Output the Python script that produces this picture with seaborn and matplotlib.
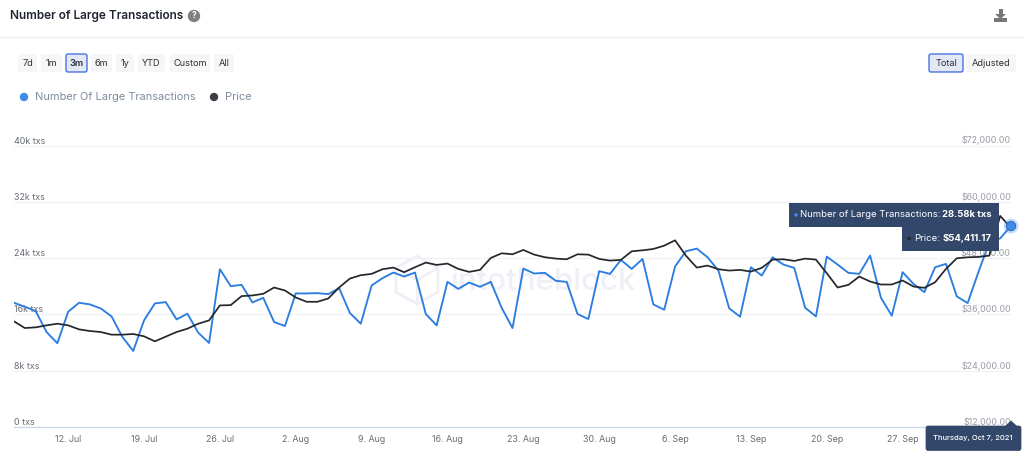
import pandas as pd
import matplotlib
matplotlib.use('Agg')
import matplotlib.pyplot as plt
from matplotlib.patches import Circle, FancyBboxPatch, Polygon, Rectangle
import seaborn as sns

start_date = '2021-07-07'
end_date = '2021-10-07'

# number of large transactions, thousands per day
large_txs = [17.65, 17.09, 16.47, 13.5, 11.9, 16.38, 17.65, 17.42, 16.85, 15.72,
             12.8, 10.81, 15.15, 17.56, 17.75, 15.29, 16.1, 13.41, 11.94, 22.42,
             20.01, 20.2, 17.7, 18.36, 14.92, 14.35, 18.98, 18.98, 19.02, 18.88,
             19.73, 16.19, 14.68, 20.11, 21.14, 21.95, 21.38, 21.95, 16.05, 14.44,
             20.62, 19.63, 20.53, 19.92, 20.62, 16.94, 14.06, 22.51, 21.81, 21.9,
             20.77, 20.62, 16.05, 15.34, 22.14, 21.76, 23.74, 22.47, 23.88, 17.42,
             16.66, 22.8, 24.97, 25.35, 24.12, 22.23, 16.85, 15.67, 22.7, 21.52,
             24.12, 23.08, 22.61, 16.95, 15.72, 24.21, 23.08, 21.9, 21.76, 24.36,
             18.36, 15.81, 22.0, 20.34, 19.16, 22.7, 23.18, 18.55, 17.61, 22.04,
             26.24, 26.8, 28.58]

price = [34513, 33097, 33238, 33663, 34017, 33663, 32813, 32459, 32247, 31681,
         31681, 31822, 31327, 30265, 31256, 32247, 32955, 34017, 34725, 37911,
         37982, 39893, 40035, 40389, 41734, 41097, 39610, 38690, 38690, 39398,
         41734, 43646, 44354, 44637, 45628, 45982, 44991, 46053, 47044, 46549,
         46832, 45699, 45062, 45487, 48035, 49027, 48814, 49735, 48743, 48177,
         47894, 47752, 48814, 48743, 47823, 47469, 47611, 49451, 49664, 49947,
         50655, 51788, 48530, 45981, 46406, 45627, 45344, 45486, 45132, 45910,
         47680, 47751, 47397, 47893, 47680, 44778, 41733, 42300, 44070, 43008,
         42370, 42370, 43220, 41946, 41662, 42866, 45698, 47964, 48176, 48247,
         48530, 57000, 54411.17]

tx_ticks = [0, 8, 16, 24, 32, 40]
tx_labels = ['0 txs', '8k txs', '16k txs', '24k txs', '32k txs', '40k txs']
price_ticks = [12000, 24000, 36000, 48000, 60000, 72000]
price_labels = ['$12,000.00', '$24,000.00', '$36,000.00', '$48,000.00', '$60,000.00', '$72,000.00']
x_tick_dates = ['2021-07-12', '2021-07-19', '2021-07-26', '2021-08-02', '2021-08-09', '2021-08-16',
                '2021-08-23', '2021-08-30', '2021-09-06', '2021-09-13', '2021-09-20', '2021-09-27']
x_tick_labels = ['12. Jul', '19. Jul', '26. Jul', '2. Aug', '9. Aug', '16. Aug',
                 '23. Aug', '30. Aug', '6. Sep', '13. Sep', '20. Sep', '27. Sep']
range_buttons = ['7d', '1m', '3m', '6m', '1y', 'YTD', 'Custom', 'All']

BLUE = '#2b7de0'
DARK = '#24272b'
NAVY = '#33476a'
W, H = 1024, 454

sns.set_style('white')
plt.rcParams['font.family'] = ['Inter', 'DejaVu Sans']

df = pd.DataFrame({'date': pd.date_range(start_date, end_date), 'txs': large_txs, 'price': price})

fig = plt.figure(figsize=(W / 100, H / 100), dpi=100, facecolor='white')


def pixel_axes(zorder):
    a = fig.add_axes([0, 0, 1, 1], zorder=zorder)
    a.set_xlim(0, W)
    a.set_ylim(H, 0)
    a.axis('off')
    return a


bg = pixel_axes(0)
fg = pixel_axes(5)

# chart axes, placed in pixels of the picture
left, right, top, bottom = 14, 1011, 145.5, 427
ax = fig.add_axes([left / W, 1 - bottom / H, (right - left) / W, (bottom - top) / H], zorder=1)
ax.patch.set_alpha(0)
ax2 = ax.twinx()
ax2.set_zorder(2)
ax2.patch.set_alpha(0)

sns.lineplot(data=df, x='date', y='txs', ax=ax, color=BLUE, lw=1.35, legend=False, zorder=3)
sns.lineplot(data=df, x='date', y='price', ax=ax2, color=DARK, lw=1.25, legend=False, zorder=4)

ax.set_xlim(df['date'].iloc[0], df['date'].iloc[-1])
ax.set_ylim(0, 40)
ax2.set_ylim(12000, 72000)
ax.set_xlabel('')
ax.set_ylabel('')
ax2.set_ylabel('')

ax.set_xticks(pd.to_datetime(x_tick_dates))
ax.set_xticklabels(x_tick_labels)
ax.tick_params(axis='x', length=4.5, width=0.8, color='#ccd6eb', labelsize=6.4, labelcolor='#666c74', pad=1)

ax.set_yticks(tx_ticks)
ax.set_yticklabels(tx_labels)
ax.tick_params(axis='y', length=0, pad=0, labelsize=6.4, labelcolor='#666c74')
for lab in ax.get_yticklabels():
    lab.set_ha('left')
    lab.set_va('bottom')

ax2.set_yticks(price_ticks)
ax2.set_yticklabels(price_labels)
ax2.tick_params(axis='y', length=0, pad=0, labelsize=6.4, labelcolor='#9a9ea5')
for lab in ax2.get_yticklabels():
    lab.set_ha('right')
    lab.set_va('bottom')

ax.grid(axis='y', color='#f0f1f4', lw=0.9)
ax.grid(axis='x', visible=False)
ax2.grid(False)
sns.despine(ax=ax, left=True, right=True, top=True)
sns.despine(ax=ax2, left=True, right=True, top=True, bottom=True)
ax.spines['bottom'].set_color('#ccd6eb')
ax.spines['bottom'].set_linewidth(0.9)

# watermark
hex_pts = [(417, 256), (438, 268), (438, 292), (417, 304), (396, 292), (396, 268)]
bg.add_patch(Polygon(hex_pts, closed=True, fill=False, ec='#eef0f6', lw=2))
bg.plot([396, 417, 438], [268, 280, 268], color='#eef0f6', lw=2)
bg.plot([417, 417], [280, 304], color='#eef0f6', lw=2)
bg.text(450, 282, 'intotheblock', fontsize=22.5, color='#eef0f6', va='center', ha='left', fontweight='medium')

# header
fg.text(10, 15.5, 'Number of Large Transactions', fontsize=8.5, fontweight='semibold', color='#1f2530', va='center')
fg.add_patch(Circle((194, 16), 5.5, color='#808080'))
fg.text(194, 16, '?', fontsize=6, fontweight='bold', color='white', ha='center', va='center')
fg.plot([0, W], [37, 37], color='#eeeeee', lw=1)

# download icon
fg.add_patch(Rectangle((998.5, 9), 4, 6, color='#777777', lw=0))
fg.add_patch(Polygon([(995, 14), (1006, 14), (1000.5, 19)], color='#777777', lw=0))
fg.add_patch(Rectangle((994, 18), 13, 3.5, color='#777777', lw=0))


def button(x0, x1, label, active=False, bold=False):
    face = '#e2e8f4' if active else '#f6f6f6'
    edge = '#3566e0' if active else 'none'
    fg.add_patch(FancyBboxPatch((x0, 54), x1 - x0, 18, boxstyle='round,pad=0,rounding_size=2',
                                fc=face, ec=edge, lw=0.9 if active else 0))
    fg.text((x0 + x1) / 2, 63.3, label, fontsize=6.6, color='#2c2f36', ha='center', va='center',
            fontweight='semibold' if bold else 'normal')


button_edges = [(18, 37), (41, 62), (66, 87), (91, 112), (116, 134), (138, 165), (170, 210), (214, 234)]
for (x0, x1), label in zip(button_edges, range_buttons):
    button(x0, x1, label, label == '3m', label == '3m')
button(929, 963, 'Total', True)
button(966, 1016, 'Adjusted')

# legend
fg.add_patch(Circle((24, 97), 4.2, color='#3f8ae6', lw=0))
fg.text(35, 97, 'Number Of Large Transactions', fontsize=7.9, color='#7e8b9c', va='center')
fg.add_patch(Circle((214, 97), 4.2, color='#3c4046', lw=0))
fg.text(225, 97, 'Price', fontsize=7.9, color='#7e8b9c', va='center')

# hover marker and tooltips
mx, my = 1011, 226
fg.add_patch(Circle((mx, my), 7.5, color='#3f8ae6', alpha=0.3, lw=0))
fg.add_patch(Circle((mx, my), 4.6, fc='#3f8ae6', ec='#2f6fc0', lw=0.8))

fg.add_patch(Rectangle((789, 203), 210, 24, color=NAVY, lw=0))
fg.add_patch(Rectangle((902, 227), 97, 24, color=NAVY, lw=0))
fg.add_patch(Circle((796, 215), 1.8, color='#3f8ae6', lw=0))
fg.text(940.5, 214.5, 'Number of Large Transactions:', fontsize=6.85, color='white', ha='right', va='center')
fg.text(992, 214.5, '28.58k txs', fontsize=6.85, color='white', ha='right', va='center', fontweight='bold')
fg.add_patch(Circle((909, 238.5), 1.8, color=DARK, lw=0))
fg.text(940.5, 238.5, 'Price:', fontsize=6.85, color='white', ha='right', va='center')
fg.text(992, 238.5, '$54,411.17', fontsize=6.85, color='white', ha='right', va='center', fontweight='bold')

fg.add_patch(FancyBboxPatch((926, 426), 95, 24.5, boxstyle='round,pad=0,rounding_size=2', fc=NAVY, ec=NAVY, lw=0.5))
fg.add_patch(Polygon([(1005, 426), (1011, 420.5), (1017, 426)], color=NAVY, lw=0))
fg.text(973, 438, 'Thursday, Oct 7, 2021', fontsize=5.5, color='white', ha='center', va='center', fontweight='medium')

fig.savefig('out.png', dpi=100)
